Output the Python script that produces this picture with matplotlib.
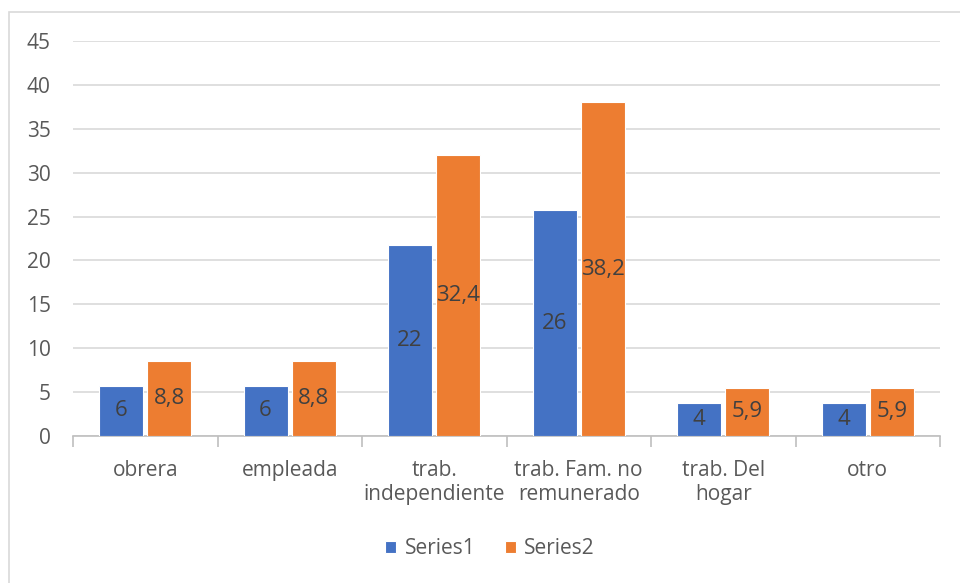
import matplotlib.pyplot as plt
import numpy as np
from matplotlib.patches import Rectangle

# categories and values (bar heights as drawn, label texts as shown)
categories = ["obrera", "empleada", "trab.\nindependiente", "trab. Fam. no\nremunerado", "trab. Del\nhogar", "otro"]
series1 = [5.7, 5.7, 21.75, 25.7, 3.75, 3.75]
series2 = [8.5, 8.5, 32.0, 38.0, 5.5, 5.5]
labels1 = ["6", "6", "22", "26", "4", "4"]
labels2 = ["8,8", "8,8", "32,4", "38,2", "5,9", "5,9"]

plt.rcParams['font.family'] = ['Open Sans', 'DejaVu Sans']

fig = plt.figure(figsize=(9.6, 5.83), dpi=100)
W, H = 960, 583
ax = fig.add_axes([73 / W, (H - 436) / H, (940 - 73) / W, (436 - 41) / H])

# chart area border
fig.patches.append(Rectangle((8.5 / W, -0.1), 1.2, (H - 12) / H + 0.1, transform=fig.transFigure,
                             fill=False, edgecolor="#D9D9D9", linewidth=1.2))

x = np.arange(len(categories))
width = 0.305
off = 0.167
b1 = ax.bar(x - off, series1, width=width, color="#4472C4", edgecolor="white", linewidth=0.8, label="Series1", zorder=3)
b2 = ax.bar(x + off, series2, width=width, color="#ED7D31", edgecolor="white", linewidth=0.8, label="Series2", zorder=3)

for bars, labs in ((b1, labels1), (b2, labels2)):
    for rect, lab in zip(bars, labs):
        ax.text(rect.get_x() + rect.get_width() / 2, rect.get_height() / 2, lab,
                ha="center", va="center", fontsize=16, color="#404040", zorder=4)

ax.set_xlim(-0.5, len(categories) - 0.5)
ax.set_ylim(0, 45)
ax.set_yticks(np.arange(0, 46, 5))
ax.grid(True, axis="y", color="#D9D9D9", linewidth=1.2, zorder=0)
ax.set_axisbelow(True)

ax.set_xticks(x)
ax.set_xticklabels(categories, fontsize=15, color="#595959", linespacing=1.2)
ax.set_xticks(np.arange(-0.5, len(categories), 1), minor=True)
ax.tick_params(axis="x", which="major", length=0, pad=17)
ax.tick_params(axis="x", which="minor", length=8, color="#BFBFBF", width=1.2)
ax.tick_params(axis="y", length=0, labelsize=15, labelcolor="#595959", pad=16)

for s in ("top", "right", "left"):
    ax.spines[s].set_visible(False)
ax.spines["bottom"].set_color("#BFBFBF")
ax.spines["bottom"].set_linewidth(1.2)

fig.legend(handles=[b1, b2], loc="center", bbox_to_anchor=(490 / W, (H - 549) / H), ncol=2,
           frameon=False, fontsize=15, labelcolor="#595959", handlelength=0.55, handleheight=0.55,
           handletextpad=0.4, columnspacing=1.4)

fig.savefig("out.png", dpi=100)
